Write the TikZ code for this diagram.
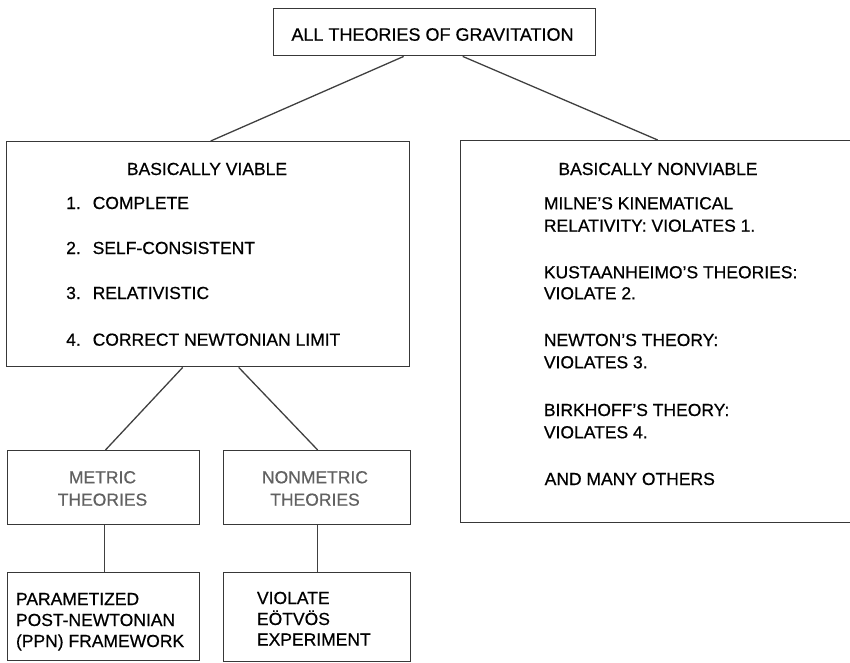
\documentclass[tikz,border=0pt]{standalone}
\usepackage{fontspec}
\setmainfont[FakeBold=0.6]{Liberation Sans}
\usetikzlibrary{calc}
\begin{document}
\begin{tikzpicture}[x=1pt,y=-1pt,
  box/.style={draw=black!78, line width=1.4pt, inner sep=0pt, anchor=north west},
  txt/.style={inner sep=0pt, anchor=base west, font=\fontsize{17.5}{21}\selectfont, text=black},
  ctxt/.style={txt, anchor=base},
  gtxt/.style={ctxt, text=black!62},
  conn/.style={draw=black!75, line width=1.3pt}]
\useasboundingbox (0,0) rectangle (850,662);
% boxes
\node[box, minimum width=322pt, minimum height=47pt] (top) at (273,8) {};
\node[box, minimum width=403pt, minimum height=225pt] (viable) at (6,141) {};
\node[box, minimum width=393pt, minimum height=382pt] (nonviable) at (460,140) {};
\node[box, minimum width=191.5pt, minimum height=74pt] (metric) at (7,450) {};
\node[box, minimum width=187pt, minimum height=74pt] (nonmetric) at (222.5,450) {};
\node[box, minimum width=191.5pt, minimum height=88pt] (ppn) at (7,572) {};
\node[box, minimum width=187pt, minimum height=88.5pt] (violate) at (222.5,572) {};
% connectors
\draw[conn] ($(top.south)+(-31,0)$) -- ($(viable.north)+(2.5,0)$);
\draw[conn] ($(top.south)+(28,0)$) -- ($(nonviable.north)+(0.5,0)$);
\draw[conn] ($(viable.south)+(-25.5,0)$) -- ($(metric.north)+(2,0)$);
\draw[conn] ($(viable.south)+(30.5,0)$) -- ($(nonmetric.north)+(1,0)$);
\draw[conn] ($(metric.south)+(1,0)$) -- ($(ppn.north)+(1,0)$);
\draw[conn] ($(nonmetric.south)+(1,0)$) -- ($(violate.north)+(1,0)$);
% title
\node[ctxt, font=\fontsize{18}{21}\selectfont] (title) at (432.5,40.7) {ALL THEORIES OF GRAVITATION};
% viable
\node[ctxt] (vhead) at (207,175) {BASICALLY VIABLE};
\node[txt] (v1) at (66,209) {\makebox[26.5pt][l]{1.}COMPLETE};
\node[txt] (v2) at (66,254) {\makebox[26.5pt][l]{2.}SELF-CONSISTENT};
\node[txt] (v3) at (66,299) {\makebox[26.5pt][l]{3.}RELATIVISTIC};
\node[txt] (v4) at (66,345.7) {\makebox[26.5pt][l]{4.}CORRECT NEWTONIAN LIMIT};
% nonviable
\node[ctxt] (nhead) at (658,175) {BASICALLY NONVIABLE};
\node[txt] (n1a) at (543.7,209.3) {MILNE'S KINEMATICAL};
\node[txt] (n1b) at (543.7,231.7) {RELATIVITY: VIOLATES 1.};
\node[txt] (n2a) at (543.7,278.3) {KUSTAANHEIMO'S THEORIES:};
\node[txt] (n2b) at (543.7,299.3) {VIOLATE 2.};
\node[txt] (n3a) at (543.7,346) {NEWTON'S THEORY:};
\node[txt] (n3b) at (543.7,368.3) {VIOLATES 3.};
\node[txt] (n4a) at (543.7,416) {BIRKHOFF'S THEORY:};
\node[txt] (n4b) at (543.7,438.3) {VIOLATES 4.};
\node[txt] (n5) at (544.5,485) {AND MANY OTHERS};
% metric / nonmetric
\node[gtxt] (m1) at (102.5,483.3) {METRIC};
\node[gtxt] (m2) at (102.5,505.7) {THEORIES};
\node[gtxt] (nm1) at (315,483.3) {NONMETRIC};
\node[gtxt] (nm2) at (315,505.7) {THEORIES};
% ppn / violate
\node[txt] (p1) at (15.8,605) {PARAMETIZED};
\node[txt] (p2) at (15.8,626) {POST-NEWTONIAN};
\node[txt] (p3) at (15.8,647) {(PPN) FRAMEWORK};
\node[txt] (e1) at (256.8,604) {VIOLATE};
\node[txt] (e2) at (256.8,625) {EÖTVÖS};
\node[txt] (e3) at (256.8,645.5) {EXPERIMENT};
\end{tikzpicture}
\end{document}
